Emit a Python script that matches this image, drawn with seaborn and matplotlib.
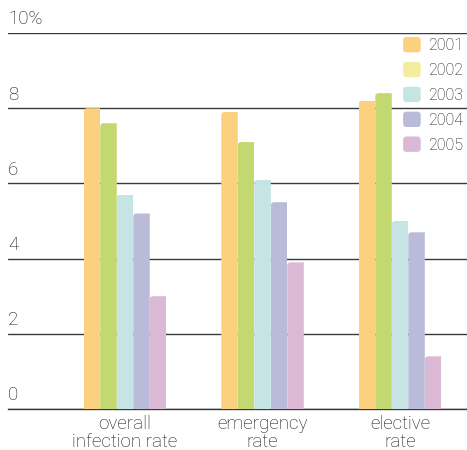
import matplotlib
matplotlib.use("Agg")
import matplotlib.pyplot as plt
from matplotlib.patches import Patch, PathPatch, FancyBboxPatch
from matplotlib.path import Path
from matplotlib.legend_handler import HandlerPatch
import seaborn as sns
import pandas as pd

categories = ["overall\ninfection rate", "emergency\nrate", "elective\nrate"]
years = ["2001", "2002", "2003", "2004", "2005"]
rate_2001 = [8.0, 7.9, 8.2]
rate_2002 = [7.6, 7.1, 8.4]
rate_2003 = [5.7, 6.1, 5.0]
rate_2004 = [5.2, 5.5, 4.7]
rate_2005 = [3.0, 3.9, 1.4]
y_ticks = [0, 2, 4, 6, 8, 10]
y_tick_labels = ["0", "2", "4", "6", "8", "10%"]

bar_colors = ["#fbd07f", "#c3d870", "#c5e4e3", "#b9bbd9", "#dbb8d3"]
legend_colors = ["#fbd07f", "#f3ee9f", "#c5e4e3", "#b9bbd9", "#dbb8d3"]

series = [rate_2001, rate_2002, rate_2003, rate_2004, rate_2005]
rows = []
for year, vals in zip(years, series):
    for cat, v in zip(categories, vals):
        rows.append({"category": cat, "year": year, "rate": v})
df = pd.DataFrame(rows)

sns.set_style("white")
plt.rcParams["font.family"] = ["Roboto", "DejaVu Sans"]
plt.rcParams["font.weight"] = "light"
text_color = "#151515"


class RoundedSwatch(HandlerPatch):
    """Legend key drawn as a small rounded square."""

    def create_artists(self, legend, orig_handle, xdescent, ydescent,
                       width, height, fontsize, trans):
        box = FancyBboxPatch((-xdescent, -ydescent), width, height,
                             boxstyle="round,pad=0,rounding_size=2.5",
                             facecolor=orig_handle.get_facecolor(),
                             edgecolor="none", transform=trans)
        return [box]


fig = plt.figure(figsize=(4.67, 4.50), dpi=100)
ax = fig.add_axes([8 / 467, 41 / 450, 1 - 8 / 467, 376 / 450])

sns.barplot(data=df, x="category", y="rate", hue="year", order=categories,
            hue_order=years, palette=bar_colors, width=0.6, saturation=1,
            edgecolor="none", linewidth=0, ax=ax, legend=False, zorder=3)

ax.set_ylim(0, 10)
ax.set_xlim(-0.851, 2.487)

# round the top-left corner of every bar with a clip path
fig.canvas.draw()
px_x = 1.0 / (ax.transData.transform((1, 0))[0] - ax.transData.transform((0, 0))[0])
px_y = 1.0 / (ax.transData.transform((0, 1))[1] - ax.transData.transform((0, 0))[1])
r = 3.5
for bar in list(ax.patches):
    x0, y0 = bar.get_x(), bar.get_y()
    w, h = bar.get_width(), bar.get_height()
    rx, ry = r * px_x, r * px_y
    verts = [(x0, y0), (x0 + w, y0), (x0 + w, y0 + h), (x0 + rx, y0 + h),
             (x0, y0 + h), (x0, y0 + h - ry), (x0, y0)]
    codes = [Path.MOVETO, Path.LINETO, Path.LINETO, Path.LINETO,
             Path.CURVE3, Path.CURVE3, Path.CLOSEPOLY]
    clip = PathPatch(Path(verts, codes), transform=ax.transData,
                     facecolor="none", edgecolor="none")
    bar.set_clip_path(clip)

ax.set_yticks(y_ticks)
ax.set_yticklabels([])
ax.tick_params(axis="y", length=0)
for t in y_ticks:
    ax.axhline(t, color="#3a3a3a", lw=1.0, zorder=1)
for t, lab in zip(y_ticks, y_tick_labels):
    ax.text(0.0, t + 0.12, lab, transform=ax.get_yaxis_transform(),
            ha="left", va="bottom", fontsize=13.5, color=text_color)

ax.set_xticks(range(len(categories)))
ax.set_xticklabels(categories, fontsize=13.5, color=text_color, linespacing=1.0)
ax.tick_params(axis="x", which="major", length=0, pad=4)
ax.set_xticks([0.5, 1.5], minor=True)
ax.tick_params(axis="x", which="minor", direction="in", length=8,
               width=1, color="#333333")
ax.set_xlabel("")
ax.set_ylabel("")
for side in ["top", "left", "right"]:
    ax.spines[side].set_visible(False)
ax.spines["bottom"].set_color("#3a3a3a")
ax.spines["bottom"].set_linewidth(1.0)

handles = [Patch(facecolor=c, edgecolor="none") for c in legend_colors]
leg = ax.legend(handles, years, loc="upper right", bbox_to_anchor=(1.0, 1.0),
                frameon=False, fontsize=11.5, handlelength=1.1, handleheight=1.1,
                handletextpad=0.45, labelspacing=0.55, borderaxespad=0.0,
                borderpad=0.25, handler_map={Patch: RoundedSwatch()})
for txt in leg.get_texts():
    txt.set_color(text_color)

fig.savefig("out.png", dpi=100)
